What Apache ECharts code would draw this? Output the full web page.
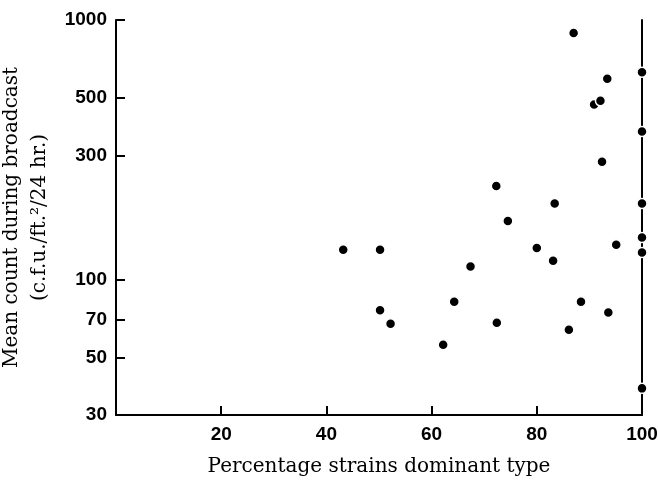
<!DOCTYPE html>
<html>
<head>
<meta charset="utf-8">
<script src="https://cdn.jsdelivr.net/npm/echarts@6/dist/echarts.min.js"></script>
<style>html,body{margin:0;padding:0;background:#fff;}#c{width:658px;height:481px;}</style>
</head>
<body>
<div id="c"></div>
<script>
// Percentage strains dominant type (x) and mean count (y)
const xValues = [43.2, 50.2, 50.2, 52.2, 62.2, 64.3, 67.4, 72.3, 72.4, 74.5, 80.0, 83.1, 83.4, 86.1, 87.0, 88.4, 90.9, 92.1, 92.4, 93.4, 93.6, 95.1, 100, 100, 100, 100, 100, 100];
const yValues = [130, 130, 76, 67.5, 56, 82, 112, 229, 68, 168, 132, 118, 196, 64, 891, 82, 472, 488, 284, 594, 74.5, 136, 629, 372, 196, 145, 127, 38];
const xTickLabels = [20, 40, 60, 80, 100];
const yTickLabels = [30, 50, 70, 100, 300, 500, 1000];
const xTitle = 'Percentage strains dominant type';
const yTitle = 'Mean count during broadcast\n(c.f.u./ft.\u00b2/24 hr.)';

const points = xValues.map((x, i) => [x, yValues[i]]);
const chart = echarts.init(document.getElementById('c'), null, {renderer: 'canvas'});
const labelFont = {fontFamily: 'Liberation Sans', fontSize: 19, fontWeight: 'bold', color: '#000'};
const titleFont = {fontFamily: 'DejaVu Serif', fontSize: 20, color: '#000'};
chart.setOption({
  animation: false,
  backgroundColor: '#fff',
  grid: {left: 116, right: 16, top: 20, bottom: 66, containLabel: false, outerBoundsMode: 'none'},
  xAxis: {
    type: 'value', min: 0, max: 100, interval: 20,
    splitLine: {show: false},
    axisLine: {show: true, lineStyle: {color: '#000', width: 2}},
    axisTick: {show: true, inside: true, length: 9, lineStyle: {color: '#000', width: 2}, customValues: [20, 40, 60, 80]},
    axisLabel: Object.assign({margin: 10, customValues: xTickLabels, formatter: v => String(v)}, labelFont),
    name: xTitle, nameLocation: 'middle', nameGap: 42,
    nameTextStyle: titleFont
  },
  yAxis: [{
    type: 'log', min: 30, max: 1000, logBase: 10,
    splitLine: {show: false},
    axisLine: {show: true, lineStyle: {color: '#000', width: 2}},
    axisTick: {show: true, inside: true, length: 9, lineStyle: {color: '#000', width: 2}, customValues: yTickLabels},
    axisLabel: Object.assign({margin: 9, customValues: yTickLabels, formatter: v => String(Math.round(v))}, labelFont),
    name: yTitle, nameLocation: 'middle', nameGap: 57, nameRotate: 90,
    nameTextStyle: Object.assign({lineHeight: 28}, titleFont)
  }, {
    type: 'log', min: 30, max: 1000, position: 'right',
    splitLine: {show: false},
    axisLine: {show: true, lineStyle: {color: '#000', width: 2}},
    axisTick: {show: false}, axisLabel: {show: false}
  }],
  series: [{
    type: 'scatter',
    data: points,
    symbol: 'circle',
    symbolSize: 10,
    itemStyle: {color: '#000', borderColor: '#fff', borderWidth: 1.5, opacity: 1},
    z: 5
  }]
});
</script>
</body>
</html>
